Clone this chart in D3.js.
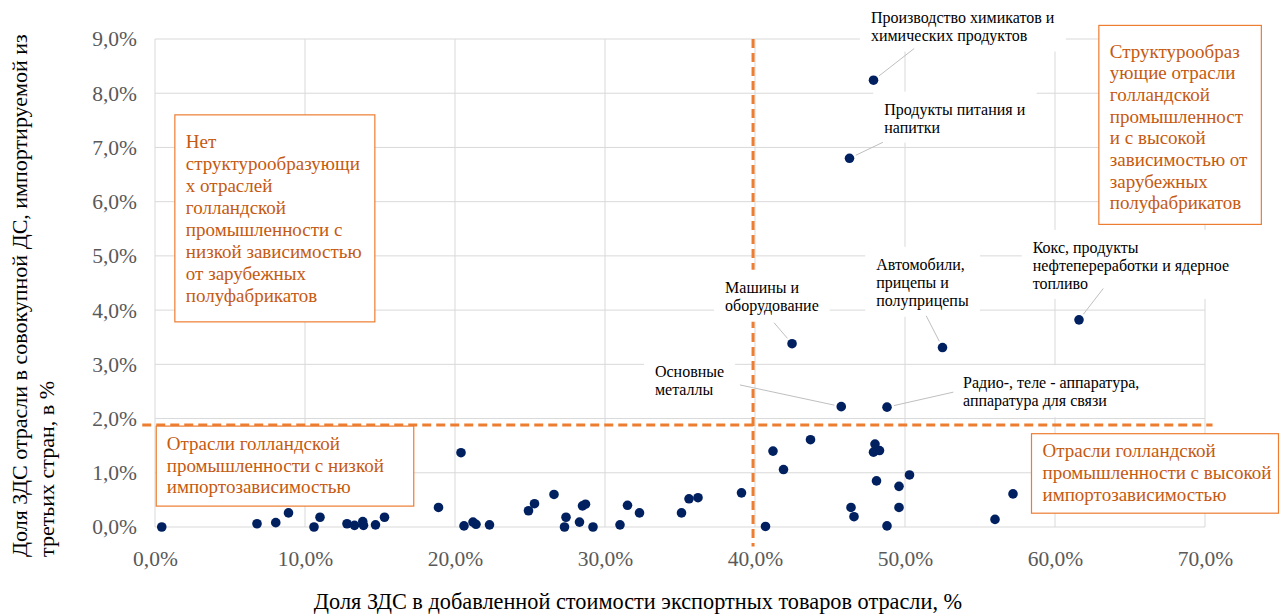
<!DOCTYPE html>
<html><head><meta charset="utf-8">
<script src="https://cdn.jsdelivr.net/npm/d3@7"></script>
<style>
body{margin:0;background:#fff}
svg{display:block}
text{font-family:"Liberation Serif","Times New Roman",serif}
</style>
</head><body>
<svg id="c" width="1280" height="614"></svg>
<script>
// ---------- DATA ----------
const xTicks = [0, 10, 20, 30, 40, 50, 60, 70];
const yTicks = [0, 1, 2, 3, 4, 5, 6, 7, 8, 9];

// unlabeled industries: share of foreign VA in exports (%), share of third-country VA (%)
const xValues = [0.45, 6.8, 8.05, 8.9, 10.6, 11.0, 12.8, 13.3, 13.85, 13.9, 14.7, 15.3, 18.9,
  20.4, 20.6, 21.2, 21.4, 22.3, 24.9, 25.3, 26.6, 27.3, 27.4, 28.3, 28.5, 28.7, 29.2,
  31.0, 31.5, 32.3, 35.1, 35.6, 36.2, 39.1, 40.7, 41.2, 41.9, 43.7, 46.4, 46.6,
  47.9, 48.0, 48.3, 48.1, 48.8, 49.6, 49.6, 50.3, 56.0, 57.2];
const yValues = [0.0, 0.06, 0.08, 0.26, 0.0, 0.18, 0.06, 0.03, 0.1, 0.03, 0.04, 0.18, 0.36,
  1.37, 0.02, 0.09, 0.05, 0.04, 0.3, 0.43, 0.6, 0.0, 0.18, 0.09, 0.39, 0.42, 0.0,
  0.04, 0.4, 0.26, 0.26, 0.52, 0.54, 0.63, 0.01, 1.40, 1.06, 1.61, 0.36, 0.19,
  1.38, 1.53, 1.41, 0.85, 0.02, 0.75, 0.36, 0.96, 0.14, 0.61];

// labeled industries
const labelNames = [
  ["Производство химикатов и", "химических продуктов"],
  ["Продукты питания и", "напитки"],
  ["Машины и", "оборудование"],
  ["Автомобили,", "прицепы и", "полуприцепы"],
  ["Кокс, продукты", "нефтепереработки и ядерное", "топливо"],
  ["Основные", "металлы"],
  ["Радио-, теле - аппаратура,", "аппаратура для связи"]
];
const labelX = [47.9, 46.3, 42.47, 52.5, 61.6, 45.75, 48.8];
const labelY = [8.24, 6.80, 3.38, 3.31, 3.82, 2.22, 2.21];

// thresholds
const thresholdX = 39.87;
const thresholdY = 1.88;

// quadrant captions
const boxTexts = [
  ["Нет", "структурообразующи", "х отраслей", "голландской", "промышленности с", "низкой зависимостью", "от зарубежных", "полуфабрикатов"],
  ["Структурообраз", "ующие отрасли", "голландской", "промышленност", "и с высокой", "зависимостью от", "зарубежных", "полуфабрикатов"],
  ["Отрасли голландской", "промышленности с низкой", "импортозависимостью"],
  ["Отрасли голландской", "промышленности с высокой", "импортозависимостью"]
];

const xTitle = "Доля ЗДС в добавленной стоимости экспортных товаров отрасли, %";
const yTitle = ["Доля ЗДС отрасли в совокупной ДС, импортируемой из", "третьих стран, в %"];

// ---------- LAYOUT ----------
const svg = d3.select("#c");
const x = d3.scaleLinear().domain([0, 70]).range([155, 1205]);
const y = d3.scaleLinear().domain([0, 9]).range([527, 39]);
const fmt = v => d3.format(".1f")(v).replace(".", ",") + "%";

const GRID = "#d9d9d9", ORANGE = "#ED7D31", ORANGE_TXT = "#C55A11", DOT = "#002060";

// gridlines
svg.append("g").selectAll("line").data(xTicks).join("line")
  .attr("x1", d => x(d)).attr("x2", d => x(d))
  .attr("y1", y(0)).attr("y2", y(9))
  .attr("stroke", GRID).attr("stroke-width", 1);
svg.append("g").selectAll("line").data(yTicks).join("line")
  .attr("x1", x(0)).attr("x2", x(70))
  .attr("y1", d => y(d)).attr("y2", d => y(d))
  .attr("stroke", GRID).attr("stroke-width", 1);

// axes (labels only, via d3 axis)
const xAxis = svg.append("g").attr("transform", `translate(0,${y(0)})`)
  .call(d3.axisBottom(x).tickValues(xTicks).tickFormat(fmt).tickSize(0).tickPadding(24));
const yAxis = svg.append("g").attr("transform", `translate(${x(0)},0)`)
  .call(d3.axisLeft(y).tickValues(yTicks).tickFormat(fmt).tickSize(0).tickPadding(18));
[xAxis, yAxis].forEach(a => {
  a.select(".domain").remove();
  a.selectAll("text").attr("font-family", '"Liberation Serif","Times New Roman",serif')
    .attr("font-size", 21.5).attr("fill", "#595959");
});

// threshold dashed lines
svg.append("line")
  .attr("x1", x(thresholdX)).attr("x2", x(thresholdX))
  .attr("y1", y(9)).attr("y2", y(-0.36))
  .attr("stroke", ORANGE).attr("stroke-width", 3).attr("stroke-dasharray", "9,5");
svg.append("line")
  .attr("x1", x(-0.85)).attr("x2", x(70.5))
  .attr("y1", y(thresholdY)).attr("y2", y(thresholdY))
  .attr("stroke", ORANGE).attr("stroke-width", 3).attr("stroke-dasharray", "9,5");

// quadrant boxes (position in data units, size in px)
const boxLayout = [
  {bx: 1.29, by: 7.61, w: 200, h: 207, pad: 11.5, first: 33.5, lh: 22},
  {bx: 62.89, by: 9.26, w: 162.5, h: 199, pad: 11.5, first: 32.7, lh: 21.7},
  {bx: 0.05, by: 1.87, w: 257.5, h: 80, pad: 11, first: 24.5, lh: 21.7},
  {bx: 58.4, by: 1.73, w: 247, h: 79.5, pad: 11.5, first: 23.5, lh: 22}
];
boxTexts.forEach((lines, i) => {
  const L = boxLayout[i];
  const g = svg.append("g").attr("transform", `translate(${x(L.bx)},${y(L.by)})`);
  g.append("rect").attr("x", 0.5).attr("y", 0.5).attr("width", L.w).attr("height", L.h)
    .attr("fill", "#fff").attr("stroke", ORANGE).attr("stroke-width", 1.2);
  g.append("text").attr("font-size", 19).attr("fill", ORANGE_TXT)
    .selectAll("tspan").data(lines).join("tspan")
    .attr("x", L.pad).attr("y", (d, j) => L.first + j * L.lh).text(d => d);
});

// labels for named points (offset in px from point)
const labelLayout = [
  {dx: -2.6, dy: -57.7, lx: 40.7, ly: -31.7},
  {dx: 34.7, dy: -43.7, lx: 33.4, ly: -16},
  {dx: -67, dy: -51, lx: -18, ly: -21},
  {dx: -66.3, dy: -77.7, lx: -16.3, ly: -31.7},
  {dx: -46.3, dy: -67, lx: 24.3, ly: -31.4},
  {dx: -186.3, dy: -30, lx: -101.3, ly: -21.7},
  {dx: 76, dy: -19, lx: 66.3, ly: -15}
];
const LH = 18;
labelNames.forEach((lines, i) => {
  const px = x(labelX[i]), py = y(labelY[i]);
  const L = labelLayout[i];
  const g = svg.append("g");
  const bg = g.append("rect").attr("fill", "#fff");
  const t = g.append("text").attr("font-size", 16).attr("fill", "#000");
  t.selectAll("tspan").data(lines).join("tspan")
    .attr("x", px + L.dx).attr("y", (d, j) => py + L.dy + j * LH).text(d => d);
  const bb = t.node().getBBox();
  bg.attr("x", bb.x - 11).attr("y", bb.y - 9).attr("width", bb.width + 22).attr("height", bb.height + 16);
  // leader
  const ex = px + L.lx, ey = py + L.ly;
  const len = Math.hypot(L.lx, L.ly);
  svg.append("line")
    .attr("x1", px + L.lx / len * 7).attr("y1", py + L.ly / len * 7)
    .attr("x2", ex).attr("y2", ey)
    .attr("stroke", "#bfbfbf").attr("stroke-width", 1);
});

// points
svg.append("g").selectAll("circle").data(xValues.map((v, i) => [v, yValues[i]])).join("circle")
  .attr("cx", d => x(d[0])).attr("cy", d => y(d[1])).attr("r", 4.8).attr("fill", DOT);
svg.append("g").selectAll("circle").data(labelX.map((v, i) => [v, labelY[i]])).join("circle")
  .attr("cx", d => x(d[0])).attr("cy", d => y(d[1])).attr("r", 4.8).attr("fill", DOT);

// axis titles
svg.append("text").attr("x", 638).attr("y", 609).attr("text-anchor", "middle")
  .attr("font-size", 22.3).attr("fill", "#000").text(xTitle);
svg.append("text").attr("transform", "translate(0,557) rotate(-90)")
  .attr("font-size", 22).attr("fill", "#000")
  .selectAll("tspan").data(yTitle).join("tspan")
  .attr("x", 0).attr("y", (d, j) => 27 + j * 26.7).text(d => d);
</script>
</body></html>
